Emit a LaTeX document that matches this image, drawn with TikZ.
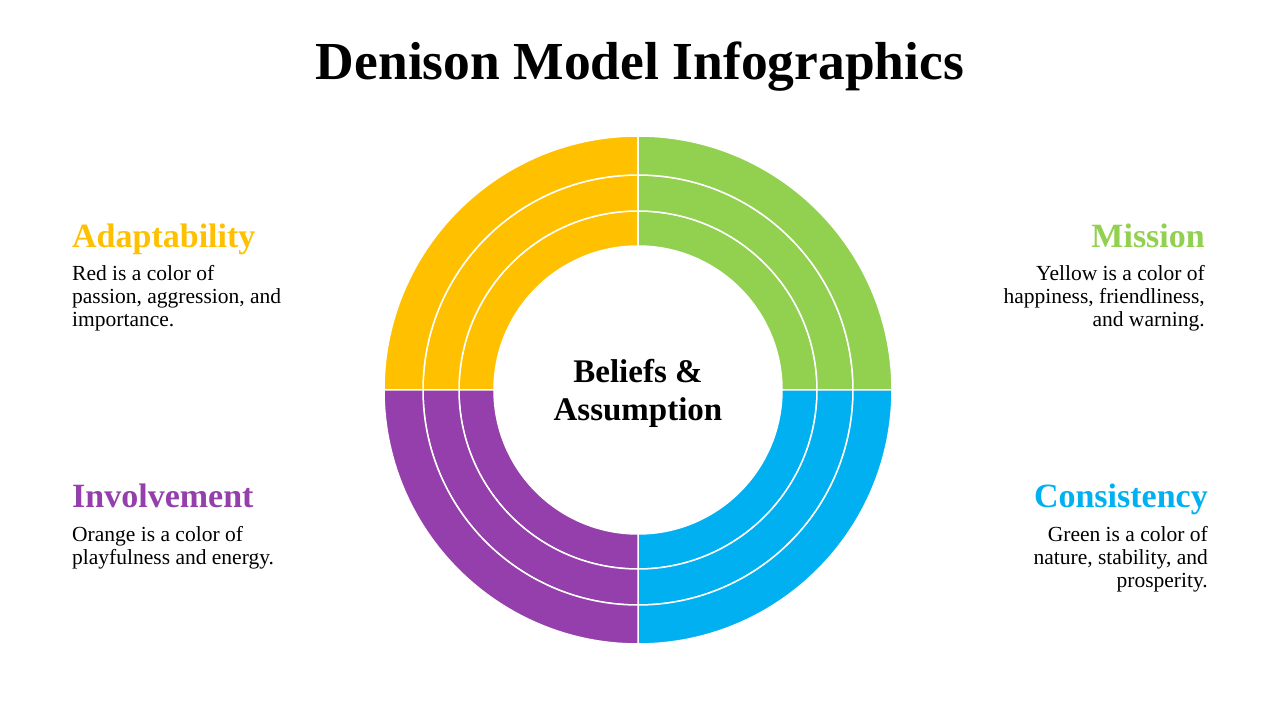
\documentclass[tikz,border=0pt]{standalone}
\usepackage{fontspec}
\setmainfont{Liberation Serif}
\usetikzlibrary{positioning}

\definecolor{adaptcol}{HTML}{FFC000}
\definecolor{missioncol}{HTML}{92D050}
\definecolor{consistcol}{HTML}{00B0F0}
\definecolor{involvecol}{HTML}{943FAB}

\begin{document}
\begin{tikzpicture}[x=1pt,y=1pt,
    heading/.style={font=\fontsize{34}{40}\selectfont\bfseries, inner sep=0pt},
    blurb/.style={font=\fontsize{21.5}{23}\selectfont, inner sep=0pt}]
  \useasboundingbox (0,0) rectangle (1280,720);
  \node[font=\fontsize{53.5}{60}\selectfont\bfseries, anchor=base, inner sep=0pt] (title) at (640,640) {Denison Model Infographics};

  % rings
  \begin{scope}[shift={(638,330)}]
    \foreach \a/\col in {90/adaptcol, 0/missioncol, 270/consistcol, 180/involvecol}
      \foreach \r/\R in {144/179, 179/215, 215/254}
        \filldraw[fill=\col, draw=white, line width=1.5pt]
          (\a:\R) arc[start angle=\a, end angle=\a+90, radius=\R]
          -- ({\a+90}:\r) arc[start angle=\a+90, end angle=\a, radius=\r] -- cycle;
  \end{scope}
  % base = last line
  \node[font=\fontsize{33}{38}\selectfont\bfseries, align=center, anchor=base, inner sep=0pt] (core) at (638,299) {Beliefs \&\\Assumption};

  \node[heading, text=adaptcol, anchor=base west] (adapt) at (72,472) {Adaptability};
  \node[blurb, align=left, anchor=base west] (adapttxt) at (72,393) {Red is a color of\\passion, aggression, and\\importance.};

  \node[heading, text=involvecol, anchor=base west] (involve) at (72,212) {Involvement};
  \node[blurb, align=left, anchor=base west] (involvetxt) at (72,155) {Orange is a color of\\playfulness and energy.};

  \node[heading, text=missioncol, anchor=base east] (mission) at (1205,472) {Mission};
  \node[blurb, align=right, anchor=base east] (missiontxt) at (1205,393) {Yellow is a color of\\happiness, friendliness,\\and warning.};

  \node[heading, text=consistcol, anchor=base east] (consist) at (1208,212) {Consistency};
  \node[blurb, align=right, anchor=base east] (consisttxt) at (1208,132) {Green is a color of\\nature, stability, and\\prosperity.};
\end{tikzpicture}
\end{document}
